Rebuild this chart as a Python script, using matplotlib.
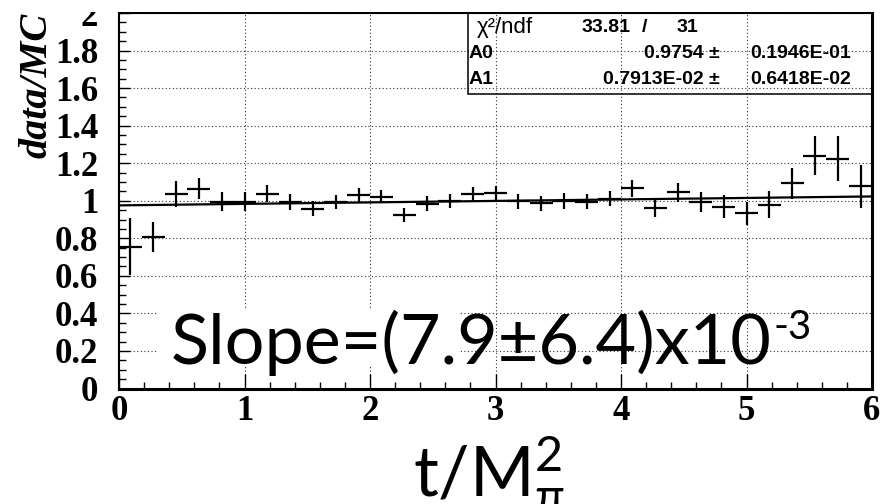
import numpy as np
import matplotlib
matplotlib.use("Agg")
import matplotlib.pyplot as plt
from matplotlib.patches import Rectangle
from matplotlib.ticker import MultipleLocator, FormatStrFormatter
#----------------------------------------------------------------------------------------

# bin centres of t/M_pi^2 (33 bins over 0..6) and the data/MC ratio
t_centers = [0.091, 0.273, 0.455, 0.636, 0.818, 1.000, 1.182, 1.364, 1.545, 1.727, 1.909,
             2.091, 2.273, 2.455, 2.636, 2.818, 3.000, 3.182, 3.364, 3.545, 3.727, 3.909,
             4.091, 4.273, 4.455, 4.636, 4.818, 5.000, 5.182, 5.364, 5.545, 5.727, 5.909]
ratio = [0.756, 0.809, 1.035, 1.065, 0.996, 0.995, 1.037, 0.995, 0.957, 0.993, 1.030,
         1.021, 0.926, 0.984, 0.998, 1.037, 1.039, 0.998, 0.986, 0.998, 0.995, 1.010,
         1.067, 0.959, 1.046, 0.993, 0.968, 0.933, 0.980, 1.092, 1.241, 1.225, 1.078]
ratio_err = [0.150, 0.080, 0.068, 0.058, 0.050, 0.050, 0.046, 0.042, 0.040, 0.037, 0.037,
             0.035, 0.038, 0.040, 0.038, 0.037, 0.040, 0.040, 0.040, 0.042, 0.040, 0.040,
             0.045, 0.047, 0.050, 0.055, 0.060, 0.062, 0.070, 0.084, 0.105, 0.118, 0.115]
bin_half = 3.0 / 33

# linear fit A0 + A1*t
A0, A0_err = 0.9754, 0.1946e-01
A1, A1_err = 0.7913e-02, 0.6418e-02
chi2, ndf = 33.81, 31

W, H = 893, 504
def fx(px):
    return px / W
def fy(py):
    return 1 - py / H
#----------------------------------------------------------------------------------------

plt.rcParams["font.family"] = "Liberation Serif"
plt.rcParams["font.weight"] = "bold"

fig = plt.figure(figsize=(W / 100, H / 100), dpi=100)
ax = fig.add_axes([fx(119), fy(388.5), 753 / W, 375.5 / H])

ax.errorbar(t_centers, ratio, yerr=ratio_err, xerr=bin_half, fmt="none",
            ecolor="black", elinewidth=1.6, capsize=0, zorder=3)

t_fit = np.linspace(0, 6, 50)
ax.plot(t_fit, A0 + A1 * t_fit, color="black", lw=1.6, zorder=3)

ax.set_xlim(0, 6)
ax.set_ylim(0, 2)
ax.xaxis.set_major_locator(MultipleLocator(1))
ax.xaxis.set_minor_locator(MultipleLocator(0.2))
ax.yaxis.set_major_locator(MultipleLocator(0.2))
ax.yaxis.set_minor_locator(MultipleLocator(0.05))
ax.yaxis.set_major_formatter(FormatStrFormatter("%g"))
ax.tick_params(which="both", direction="in", top=False, right=False, labelsize=25)
ax.tick_params(axis="x", which="major", length=11, width=1, pad=5)
ax.tick_params(axis="x", which="minor", length=5, width=1)
ax.tick_params(axis="y", which="major", length=8, width=1, pad=15)
ax.tick_params(axis="y", which="minor", length=5, width=1)

ax.grid(True, which="major", color="0.2", lw=0.8, linestyle=(0, (1, 2.2)))
ax.set_axisbelow(True)
for side in ["left", "top"]:
    ax.spines[side].set_linewidth(1.5)
for side in ["right", "bottom"]:
    ax.spines[side].set_linewidth(2.2)

# fit statistics box
ax.add_patch(Rectangle((0.4635, 0.784), 0.5365, 0.216, transform=ax.transAxes,
                       fill=False, edgecolor="black", lw=1.1, zorder=4, clip_on=False))
stat = dict(family="Liberation Sans", fontsize=14, weight="bold", va="center")
fig.text(fx(477), fy(28), "χ²/ndf", **dict(stat, weight="normal", fontsize=16))
fig.text(fx(582), fy(28), f"{chi2:.2f}", **stat)
fig.text(fx(644), fy(28), "/", ha="center", **stat)
fig.text(fx(677), fy(28), f"{ndf}", **stat)
fig.text(fx(469), fy(53), "A0", **stat)
fig.text(fx(720), fy(53), f"{A0:.4f} ±", ha="right", **stat)
fig.text(fx(851), fy(53), "0.1946E-01", ha="right", **stat)
fig.text(fx(469), fy(80), "A1", **stat)
fig.text(fx(720), fy(80), "0.7913E-02 ±", ha="right", **stat)
fig.text(fx(851), fy(80), "0.6418E-02", ha="right", **stat)

# axis titles
fig.text(fx(37), fy(85), "data/MC", rotation=90, ha="center", va="center",
         family="Liberation Serif", style="italic", weight="bold", fontsize=29)

plt.rcParams["mathtext.fontset"] = "custom"
plt.rcParams["mathtext.rm"] = "Lato"
plt.rcParams["mathtext.default"] = "regular"
fig.text(fx(413), fy(496), r"t/M$_{π}^{2}$", ha="left", va="baseline",
         family=["Lato", "DejaVu Sans"], weight="normal", fontsize=50)

# slope annotation on white background
ax.add_patch(Rectangle((fx(157), fy(367)), (460 - 157) / W, (367 - 310) / H,
                       transform=fig.transFigure, facecolor="white", edgecolor="none",
                       zorder=1))
slope = fig.text(fx(171), fy(364), "Slope=(7.9±6.4)x10", ha="left", va="baseline",
                 family="Lato", weight="normal", fontsize=50.5)
fig.canvas.draw()
bb = slope.get_window_extent()
fig.text(bb.x1 / W + 0.002, fy(339), "-3", ha="left", va="baseline",
         family="Lato", weight="normal", fontsize=29)

# the original picture is cropped just above the frame
fig.add_artist(Rectangle((0, fy(12)), 1, 12 / H, transform=fig.transFigure,
                         facecolor="white", edgecolor="none", zorder=10))

fig.savefig("out.png", dpi=100)
